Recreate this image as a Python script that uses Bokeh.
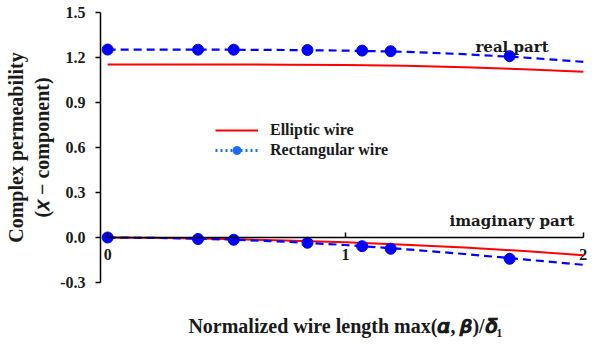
from bokeh.plotting import figure
from bokeh.models import (Range1d, FixedTicker, PrintfTickFormatter, Label, Legend,
                          LegendItem, ColumnDataSource, LinearAxis)
from bokeh.embed import file_html
from bokeh.resources import INLINE

# ---- data ----
x_curve = [0, 0.25, 0.5, 0.75, 1.0, 1.25, 1.5, 1.75, 2.0]
ell_real = [1.153, 1.153, 1.153, 1.152, 1.150, 1.145, 1.135, 1.122, 1.105]
ell_imag = [0.0, -0.003, -0.010, -0.020, -0.032, -0.048, -0.067, -0.090, -0.118]
rect_fit_real = [1.253, 1.253, 1.252, 1.250, 1.246, 1.238, 1.222, 1.200, 1.171]
rect_fit_imag = [0.0, -0.004, -0.013, -0.028, -0.050, -0.078, -0.110, -0.146, -0.182]
x_pts = [0, 0.38, 0.53, 0.84, 1.07, 1.19, 1.69]
rect_real = [1.253, 1.252, 1.252, 1.250, 1.246, 1.242, 1.209]
rect_imag = [0.0, -0.010, -0.015, -0.035, -0.058, -0.075, -0.142]
x_ticks = [0, 1, 2]
y_ticks = [-0.3, 0.0, 0.3, 0.6, 0.9, 1.2, 1.5]

SERIF = "Liberation Serif"
TXT = "#1a1a1a"

p = figure(frame_width=490, frame_height=270, output_backend="svg", toolbar_location=None,
           x_range=Range1d(-0.03, 2.03), y_range=Range1d(-0.3, 1.5),
           min_border_left=100, min_border_right=8, min_border_top=12, min_border_bottom=64,
           x_axis_location=None, y_axis_location=None)
p.outline_line_color = None
p.grid.visible = False
p.background_fill_color = "white"
p.border_fill_color = "white"

# y axis
yax = LinearAxis(ticker=FixedTicker(ticks=y_ticks), formatter=PrintfTickFormatter(format="%.1f"),
                 bounds=(-0.3, 1.5))
yax.axis_line_width = 1.5
yax.axis_line_color = "black"
yax.major_tick_in = 0
yax.major_tick_out = 5
yax.major_tick_line_width = 1.5
yax.minor_tick_line_color = None
yax.major_label_text_font = SERIF
yax.major_label_text_font_style = "bold"
yax.major_label_text_font_size = "16px"
yax.major_label_text_color = TXT
yax.major_label_standoff = 10
yax.axis_label = "Complex permeability\n(\U0001D465 \u2212 component)"
yax.axis_label_text_font = SERIF
yax.axis_label_text_font_style = "bold"
yax.axis_label_text_font_size = "20px"
yax.axis_label_text_color = TXT
yax.axis_label_standoff = 4
p.add_layout(yax, "left")

# x axis at y = 0
xax = LinearAxis(ticker=FixedTicker(ticks=x_ticks), bounds=(0, 2), fixed_location=0)
xax.axis_line_width = 1.5
xax.axis_line_color = "black"
xax.major_tick_in = 5
xax.major_tick_out = 0
xax.major_tick_line_width = 1.5
xax.minor_tick_line_color = None
xax.major_label_text_font = SERIF
xax.major_label_text_font_style = "bold"
xax.major_label_text_font_size = "16px"
xax.major_label_text_color = TXT
xax.major_label_standoff = 11
p.add_layout(xax, "below")

# x axis title carrier (no ticks)
xt = LinearAxis(ticker=FixedTicker(ticks=[]))
xt.axis_line_color = None
xt.major_tick_line_color = None
xt.minor_tick_line_color = None
xt.major_label_text_font_size = "0px"
xt.axis_label = "Normalized wire length max(\U0001D736, \U0001D737)/\U0001D739\u2081"
xt.axis_label_text_font = SERIF
xt.axis_label_text_font_style = "bold"
xt.axis_label_text_font_size = "20px"
xt.axis_label_text_color = TXT
xt.axis_label_standoff = 32
p.add_layout(xt, "below")

# curves
r_ell = p.line(x_curve, ell_real, line_color="#FF0000", line_width=2)
p.line(x_curve, ell_imag, line_color="#FF0000", line_width=2)
p.line(x_curve, rect_fit_real, line_color="#0000FF", line_width=2.2, line_dash="8 5")
p.line(x_curve, rect_fit_imag, line_color="#0000FF", line_width=2.2, line_dash="8 5")
p.scatter(x_pts, rect_real, size=11, fill_color="#0000FF", line_color="#0000FF")
p.scatter(x_pts, rect_imag, size=11, fill_color="#0000FF", line_color="#0000FF")

# legend glyph carriers (placed off-frame)
off = ColumnDataSource(data=dict(x=[-10.0, -9.0], y=[-10.0, -10.0]))
r_rl = p.line("x", "y", source=off, line_color="#1A6CFF", line_width=3, line_dash="2 3")
r_rc = p.scatter("x", "y", source=off, size=20, fill_color="#1A6CFF", line_color="#1A6CFF")
legend = Legend(items=[LegendItem(label="Elliptic wire", renderers=[r_ell]),
                       LegendItem(label="Rectangular wire", renderers=[r_rl, r_rc])],
                location=(115, 122))
legend.border_line_color = None
legend.background_fill_alpha = 0
legend.glyph_width = 43
legend.glyph_height = 20
legend.label_standoff = 12
legend.spacing = 0
legend.padding = 0
legend.margin = 0
legend.label_text_font = SERIF
legend.label_text_font_style = "bold"
legend.label_text_font_size = "16px"
legend.label_text_color = TXT
p.add_layout(legend, "center")

# text annotations
p.add_layout(Label(x=1.70, y=1.267, text="real part", text_align="center",
                   text_baseline="alphabetic", text_font="DejaVu Serif", text_font_style="bold",
                   text_font_size="15px", text_color=TXT))
p.add_layout(Label(x=1.70, y=0.107, text="imaginary part", text_align="center",
                   text_baseline="alphabetic", text_font="DejaVu Serif", text_font_style="bold",
                   text_font_size="15px", text_color=TXT))

open("out.html", "w").write(file_html(p, INLINE))
